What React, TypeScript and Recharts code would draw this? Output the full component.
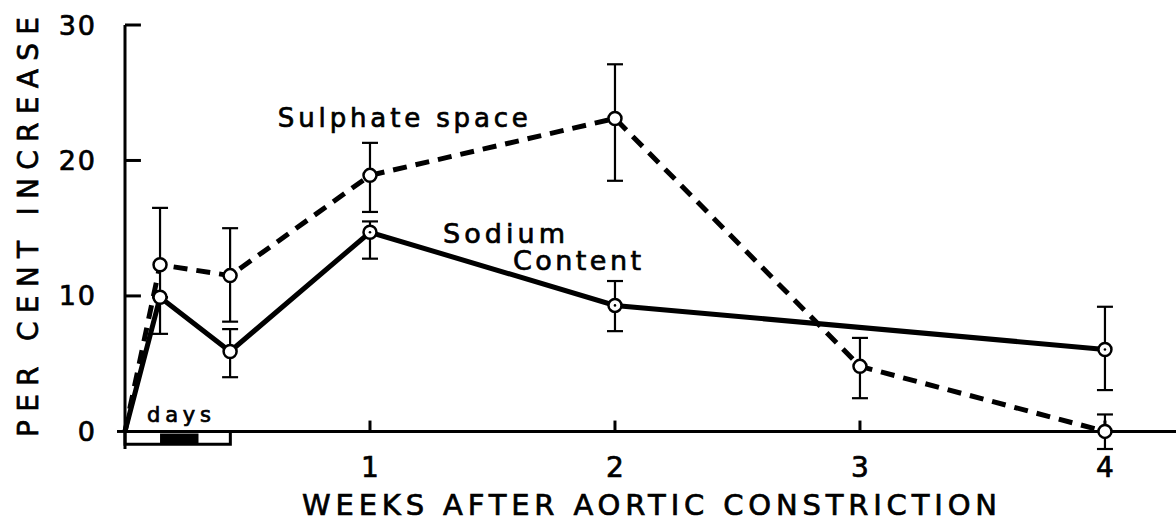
import React from "react";
import {
    LineChart,
    Line,
    XAxis,
    YAxis,
    ErrorBar,
    ReferenceLine,
    ReferenceArea,
    ReferenceDot,
} from "recharts";

// weeks after constriction (1 day = 0.143, 3 days = 0.429)
const sulphateWeeks: number[] = [0, 0.143, 0.429, 1, 2, 3, 4];
const sulphateValues: number[] = [0, 12.3, 11.5, 18.9, 23.1, 4.8, 0];
const sulphateErrLow: number[] = [0, 2.4, 3.4, 2.7, 4.6, 2.35, 1.3];
const sulphateErrHigh: number[] = [0, 4.2, 3.5, 2.4, 4.0, 2.1, 1.25];

const sodiumWeeks: number[] = [0, 0.143, 0.429, 1, 2, 4];
const sodiumValues: number[] = [0, 9.9, 5.9, 14.7, 9.3, 6.05];
const sodiumErrLow: number[] = [0, 2.7, 1.9, 1.95, 1.9, 3.0];
const sodiumErrHigh: number[] = [0, 0, 1.65, 0.8, 1.8, 3.15];

const xTicks: number[] = [1, 2, 3, 4];
const yTicks: number[] = [0, 10, 20, 30];

const sulphateData = sulphateWeeks.map((x, i) => ({
    x,
    y: sulphateValues[i],
    err: [sulphateErrLow[i], sulphateErrHigh[i]],
}));

const sodiumData = sodiumWeeks.map((x, i) => ({
    x,
    y: sodiumValues[i],
    err: [sodiumErrLow[i], sodiumErrHigh[i]],
}));

const FONT = "DejaVu Sans";
// old print: thicken the glyphs a little
const INK = { fill: "#000", stroke: "#000", strokeWidth: 0.7 };

const makeDot = (centre: boolean) => (props: any) => {
    const { cx, cy, payload, index } = props;
    if (payload.x === 0) return <g key={index} />;
    return (
        <g key={index}>
            <circle cx={cx} cy={cy} r={6.5} fill="#fff" stroke="#000" strokeWidth={2.5} />
            {centre && payload.x >= 1 && <circle cx={cx} cy={cy} r={1.3} fill="#000" />}
        </g>
    );
};

const textAt = (text: string, size: number, length: number) => (props: any) => {
    const { viewBox } = props;
    return (
        <text
            x={viewBox.x}
            y={viewBox.y}
            fontFamily={FONT}
            fontSize={size}
            textLength={length}
            lengthAdjust="spacing"
            {...INK}
        >
            {text}
        </text>
    );
};

const XTick = (props: any) => (
    <text x={props.x} y={props.y + 28} textAnchor="middle" fontFamily={FONT} fontSize={28} {...INK}>
        {props.payload.value}
    </text>
);

const YTick = (props: any) => (
    <text
        x={props.x - 28}
        y={props.y + 9.5}
        textAnchor="end"
        fontFamily={FONT}
        fontSize={27}
        letterSpacing={2}
        {...INK}
    >
        {props.payload.value}
    </text>
);

export default function App(): React.ReactElement {
    return (
        <div style={{ position: "absolute", left: 0, top: 0, background: "#fff" }}>
            <LineChart width={1176} height={521} margin={{ top: 25, right: 0, left: 0, bottom: 0 }}>
                <XAxis
                    dataKey="x"
                    type="number"
                    domain={[0, 4.29]}
                    ticks={xTicks}
                    axisLine={false}
                    tickLine={false}
                    tickSize={0}
                    tickMargin={0}
                    height={72}
                    tick={<XTick />}
                    label={{
                        content: (p: any) => (
                            <text
                                x={302}
                                y={p.viewBox.y + 66}
                                fontFamily={FONT}
                                fontSize={29}
                                textLength={695}
                                lengthAdjust="spacing"
                                {...INK}
                            >
                                WEEKS AFTER AORTIC CONSTRICTION
                            </text>
                        ),
                    }}
                />
                <YAxis
                    type="number"
                    domain={[-1, 30]}
                    ticks={yTicks}
                    width={125}
                    axisLine={{ stroke: "#000", strokeWidth: 3 }}
                    tickLine={false}
                    tickSize={0}
                    tickMargin={0}
                    tick={<YTick />}
                    label={{
                        content: () => (
                            <text
                                transform="translate(38 227) rotate(-90)"
                                textAnchor="middle"
                                fontFamily={FONT}
                                fontSize={28}
                                textLength={420}
                                lengthAdjust="spacing"
                                {...INK}
                            >
                                PER CENT INCREASE
                            </text>
                        ),
                    }}
                />

                <ReferenceLine y={0} stroke="#000" strokeWidth={3} />
                {yTicks.filter((t) => t > 0).map((t) => (
                    <ReferenceLine
                        key={"yt" + t}
                        segment={[{ x: 0, y: t }, { x: 0.065, y: t }]}
                        stroke="#000"
                        strokeWidth={3}
                    />
                ))}
                {xTicks.map((t) => (
                    <ReferenceLine
                        key={"xt" + t}
                        segment={[{ x: t, y: 0 }, { x: t, y: 0.8 }]}
                        stroke="#000"
                        strokeWidth={3}
                    />
                ))}

                {/* the "days" bracket under the axis */}
                <ReferenceArea x1={0} x2={0.43} y1={-0.95} y2={0} fill="#fff" fillOpacity={1} stroke="#000" strokeWidth={3} />
                <ReferenceArea x1={0.143} x2={0.3} y1={-0.85} y2={-0.15} fill="#000" fillOpacity={1} stroke="none" />

                <Line
                    data={sodiumData}
                    dataKey="y"
                    stroke="#000"
                    strokeWidth={5}
                    dot={makeDot(true)}
                    isAnimationActive={false}
                >
                    <ErrorBar dataKey="err" direction="y" width={8} stroke="#000" strokeWidth={2.2} />
                </Line>
                <Line
                    data={sulphateData}
                    dataKey="y"
                    stroke="#000"
                    strokeWidth={5}
                    strokeDasharray="14 9"
                    dot={makeDot(false)}
                    isAnimationActive={false}
                >
                    <ErrorBar dataKey="err" direction="y" width={8} stroke="#000" strokeWidth={2.2} />
                </Line>

                <ReferenceDot x={0.624} y={22.5} r={0} fill="none" stroke="none" label={{ content: textAt("Sulphate space", 26, 250) }} />
                <ReferenceDot x={1.298} y={13.9} r={0} fill="none" stroke="none" label={{ content: textAt("Sodium", 27, 122) }} />
                <ReferenceDot x={1.584} y={11.9} r={0} fill="none" stroke="none" label={{ content: textAt("Content", 27, 128) }} />
                <ReferenceDot x={0.09} y={0.7} r={0} fill="none" stroke="none" label={{ content: textAt("days", 21, 64) }} />
            </LineChart>
        </div>
    );
}
